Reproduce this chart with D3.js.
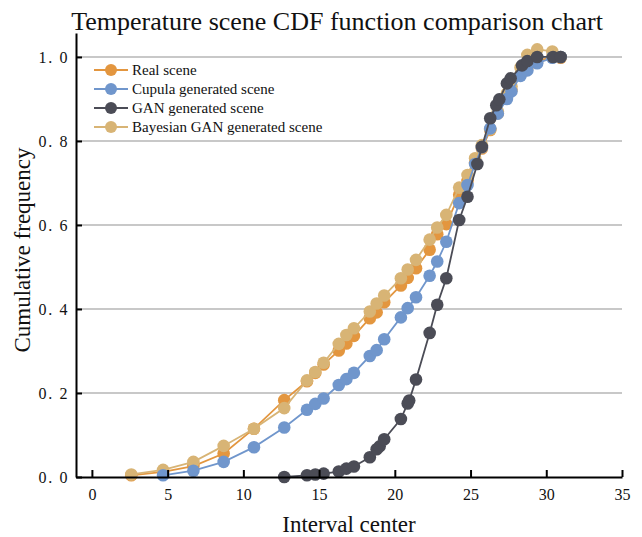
<!DOCTYPE html>
<html>
<head>
<meta charset="utf-8">
<script src="https://cdn.jsdelivr.net/npm/d3@7"></script>
<style>
  html, body { margin: 0; padding: 0; background: #fff; }
  svg { display: block; }
  text { font-family: "Liberation Serif", "Times New Roman", serif; fill: #111; }
</style>
</head>
<body>
<svg id="chart" width="642" height="537"></svg>
<script>
// ---------------- data ----------------
const seriesNames = ["Real scene", "Cupula generated scene", "GAN generated scene", "Bayesian GAN generated scene"];
const seriesColors = ["#E3963F", "#7096CC", "#4B4C56", "#D8B475"];

const realX = [2.6, 4.7, 6.7, 8.7, 10.7, 12.7, 14.2, 14.75, 15.3, 16.3, 16.8, 17.3, 18.35, 18.8, 19.3, 20.4, 20.85, 21.4, 22.3, 22.8, 23.4, 24.25, 24.8, 25.3, 25.75, 26.3, 26.8, 27.4, 27.7, 28.3, 28.75, 29.4, 30.4, 30.95];
const realY = [0.004, 0.012, 0.026, 0.056, 0.115, 0.183, 0.228, 0.248, 0.268, 0.301, 0.318, 0.336, 0.378, 0.392, 0.416, 0.456, 0.474, 0.497, 0.541, 0.578, 0.602, 0.672, 0.705, 0.748, 0.782, 0.826, 0.866, 0.905, 0.922, 0.958, 0.975, 0.99, 1.0, 0.998];

const cupulaX = [4.7, 6.7, 8.7, 10.7, 12.7, 14.2, 14.75, 15.3, 16.3, 16.8, 17.3, 18.35, 18.8, 19.3, 20.4, 20.85, 21.4, 22.3, 22.8, 23.4, 24.25, 24.8, 25.3, 25.75, 26.3, 26.8, 27.4, 27.7, 28.3, 28.75, 29.4, 30.4, 30.95];
const cupulaY = [0.004, 0.015, 0.036, 0.071, 0.118, 0.16, 0.174, 0.187, 0.219, 0.233, 0.248, 0.288, 0.302, 0.328, 0.38, 0.402, 0.428, 0.479, 0.513, 0.56, 0.652, 0.695, 0.745, 0.785, 0.83, 0.865, 0.9, 0.918, 0.955, 0.968, 0.985, 0.998, 1.0];

const ganX = [12.7, 14.2, 14.75, 15.3, 16.3, 16.8, 17.3, 18.35, 18.8, 19.0, 19.3, 20.4, 20.85, 20.95, 21.4, 22.3, 22.8, 23.4, 24.25, 24.8, 25.45, 25.75, 26.3, 26.7, 26.9, 27.4, 27.65, 28.4, 28.75, 29.4, 30.45, 30.95];
const ganY = [0.0, 0.004, 0.006, 0.008, 0.013, 0.02, 0.025, 0.047, 0.066, 0.073, 0.09, 0.138, 0.175, 0.182, 0.232, 0.343, 0.41, 0.473, 0.612, 0.667, 0.745, 0.786, 0.854, 0.885, 0.899, 0.937, 0.949, 0.98, 0.99, 1.0, 1.0, 1.0];

const bayesX = [2.6, 4.7, 6.7, 8.7, 10.7, 12.7, 14.2, 14.75, 15.3, 16.3, 16.8, 17.3, 18.35, 18.8, 19.3, 20.4, 20.85, 21.4, 22.3, 22.8, 23.4, 24.25, 24.8, 25.3, 25.75, 26.3, 26.8, 27.4, 27.7, 28.3, 28.75, 29.4, 30.4, 30.95];
const bayesY = [0.006, 0.017, 0.036, 0.074, 0.115, 0.164, 0.23, 0.25, 0.272, 0.317, 0.338, 0.354, 0.394, 0.413, 0.432, 0.473, 0.494, 0.517, 0.565, 0.594, 0.624, 0.689, 0.719, 0.759, 0.79, 0.828, 0.87, 0.913, 0.93, 0.975, 1.005, 1.018, 1.013, 1.0];

const xTicks = [0, 5, 10, 15, 20, 25, 30, 35];
const yTicks = [0.0, 0.2, 0.4, 0.6, 0.8, 1.0];

const titleText = "Temperature scene CDF function comparison chart";
const xLabel = "Interval center";
const yLabel = "Cumulative frequency";

// ---------------- chart ----------------
const svg = d3.select("#chart");
const plotL = 76, plotR = 622, plotT = 33, plotB = 477;

const x = d3.scaleLinear().domain([-1.05, 35]).range([plotL, plotR]);
const y = d3.scaleLinear().domain([0, 1.057]).range([plotB, plotT]);

// gridlines
svg.append("g").selectAll("line").data(yTicks.filter(d => d > 0)).join("line")
  .attr("x1", plotL).attr("x2", plotR)
  .attr("y1", d => y(d)).attr("y2", d => y(d))
  .attr("stroke", "#c8c8c8").attr("stroke-width", 2);

// series
const series = [
  { name: seriesNames[0], color: seriesColors[0], xs: realX, ys: realY },
  { name: seriesNames[1], color: seriesColors[1], xs: cupulaX, ys: cupulaY },
  { name: seriesNames[2], color: seriesColors[2], xs: ganX, ys: ganY },
  { name: seriesNames[3], color: seriesColors[3], xs: bayesX, ys: bayesY }
];
const drawOrder = [0, 3, 1, 2];
const line = d3.line().x(d => x(d[0])).y(d => y(d[1]));

drawOrder.forEach(i => {
  const s = series[i];
  const pts = s.xs.map((v, k) => [v, s.ys[k]]);
  const g = svg.append("g");
  g.append("path").datum(pts).attr("d", line)
    .attr("fill", "none").attr("stroke", s.color).attr("stroke-width", 1.8);
  g.selectAll("circle").data(pts).join("circle")
    .attr("cx", d => x(d[0])).attr("cy", d => y(d[1])).attr("r", 6.3)
    .attr("fill", s.color);
});

// axes
const xAxis = d3.axisBottom(x).tickValues(xTicks).tickSizeInner(-7).tickSizeOuter(0).tickPadding(12).tickFormat(d3.format("d"));
const gx = svg.append("g").attr("transform", `translate(0,${plotB})`).call(xAxis);
gx.select(".domain").attr("stroke", "#000").attr("stroke-width", 2);
gx.selectAll(".tick line").attr("stroke", "#000").attr("stroke-width", 2);
gx.selectAll(".tick text").style("font-family", "'Liberation Serif', serif").style("font-size", "16px").attr("fill", "#222");

const yAxis = d3.axisLeft(y).tickValues(yTicks).tickSizeInner(-6).tickSizeOuter(0).tickPadding(7).tickFormat(d => d.toFixed(1).replace(".", ". "));
const gy = svg.append("g").attr("transform", `translate(${plotL},0)`).call(yAxis);
gy.select(".domain").attr("stroke", "#000").attr("stroke-width", 2);
gy.selectAll(".tick line").attr("stroke", "#000").attr("stroke-width", 2);
gy.selectAll(".tick text").style("font-family", "'Liberation Serif', serif").style("font-size", "16px")
  .style("white-space", "pre").style("letter-spacing", "1.6px").attr("fill", "#222");

// title and labels
svg.append("text").attr("x", 337).attr("y", 30).attr("text-anchor", "middle")
  .style("font-size", "26px").text(titleText);
svg.append("text").attr("x", 349).attr("y", 532).attr("text-anchor", "middle")
  .style("font-size", "23px").text(xLabel);
svg.append("text").attr("transform", "translate(30,250) rotate(-90)").attr("text-anchor", "middle")
  .style("font-size", "23px").text(yLabel);

// legend
const lg = svg.append("g");
lg.append("rect").attr("x", 82).attr("y", 60).attr("width", 258).attr("height", 77).attr("fill", "#fff");
series.forEach((s, i) => {
  const yy = 70 + i * 19;
  lg.append("line").attr("x1", 94).attr("x2", 128).attr("y1", yy).attr("y2", yy)
    .attr("stroke", s.color).attr("stroke-width", 1.8);
  lg.append("circle").attr("cx", 111).attr("cy", yy).attr("r", 6).attr("fill", s.color);
  lg.append("text").attr("x", 132).attr("y", yy + 5).style("font-size", "15px").text(s.name);
});
</script>
</body>
</html>
